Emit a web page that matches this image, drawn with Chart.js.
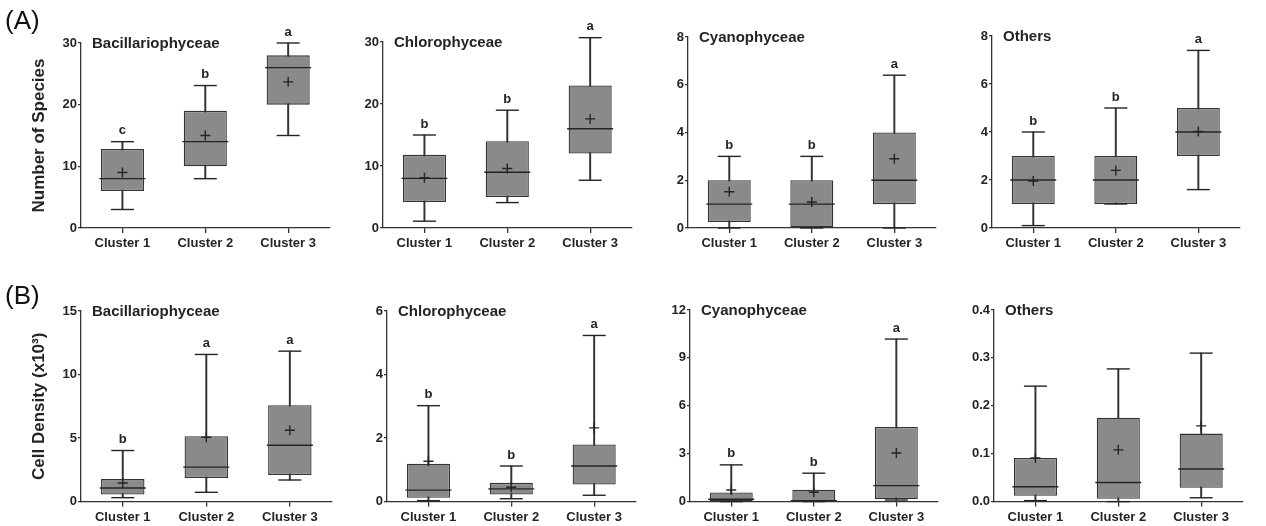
<!DOCTYPE html>
<html>
<head>
<meta charset="utf-8">
<script src="https://cdn.jsdelivr.net/npm/chart.js@4.4.0/dist/chart.umd.min.js"></script>
<style>
    html, body { margin: 0; padding: 0; background: #fff; }
    #wrap { position: relative; width: 1266px; height: 526px; overflow: hidden; }
    .panel { position: absolute; }
</style>
</head>
<body>
<div id="wrap"></div>
<script>
// --- data ---
const clusters = ["Cluster 1", "Cluster 2", "Cluster 3"];
const groups = ["Bacillariophyceae", "Chlorophyceae", "Cyanophyceae", "Others"];

// (A) number of species, one row per group, one value per cluster
const speciesMin = [[3, 8, 15], [1.1, 4.1, 7.7], [0, 0, 0], [0.1, 1, 1.6]];
const speciesQ1 = [[6, 10, 20], [4.2, 5, 12], [0.25, 0, 1], [1, 1, 3]];
const speciesMedian = [[8, 14, 26], [8, 9, 16], [1, 1, 2], [2, 2, 4]];
const speciesQ3 = [[12.8, 19, 28], [11.8, 14, 23], [2, 2, 4], [3, 3, 5]];
const speciesMax = [[14, 23.1, 30], [15, 19, 30.7], [3, 3, 6.4], [4, 5, 7.4]];
const speciesMean = [[9, 15, 23.7], [8.1, 9.6, 17.6], [1.52, 1.09, 2.9], [1.96, 2.4, 4.02]];
const speciesLetters = [["c", "b", "a"], ["b", "b", "a"], ["b", "b", "a"], ["b", "b", "a"]];
const speciesYMax = [30, 30, 8, 8];
const speciesYStep = [10, 10, 2, 2];

// (B) cell density (x10^3)
const densityMin = [[0.31, 0.73, 1.7], [0.03, 0.09, 0.2], [0, 0, 0.1], [0.002, 0, 0.008]];
const densityQ1 = [[0.55, 1.85, 2.09], [0.12, 0.22, 0.54], [0.02, 0.02, 0.17], [0.012, 0.006, 0.029]];
const densityMedian = [[1.07, 2.71, 4.43], [0.36, 0.4, 1.12], [0.15, 0.06, 1.0], [0.031, 0.04, 0.068]];
const densityQ3 = [[1.77, 5.14, 7.59], [1.19, 0.59, 1.8], [0.57, 0.75, 4.67], [0.091, 0.175, 0.142]];
const densityMax = [[4.02, 11.58, 11.84], [3.02, 1.12, 5.23], [2.3, 1.78, 10.18], [0.241, 0.277, 0.31]];
const densityMean = [[1.46, 5.06, 5.61], [1.27, 0.45, 2.32], [0.73, 0.59, 3.04], [0.091, 0.108, 0.158]];
const densityLetters = [["b", "a", "a"], ["b", "b", "a"], ["b", "b", "a"], ["", "", ""]];
const densityYMax = [15, 6, 12, 0.4];
const densityYStep = [5, 2, 3, 0.1];

// --- look ---
const FONT = "'Liberation Sans', Arial, sans-serif";
const INK = "#242424";
const EDGE = "#333333";
const BOX = "#8a8a8a";

// plot area of each panel, in page pixels
const rowA = { top: 0, height: 262, axisBottom: 228, tops: [43, 42, 37, 36], lefts: [81, 383, 688, 992], rights: [350, 652, 956, 1260] };
const rowB = { top: 262, height: 264, axisBottom: 502, tops: [311, 311, 310, 310], lefts: [81, 387, 690, 994], rights: [352, 656, 958, 1263] };

const wrap = document.getElementById("wrap");

function makePanel(row, i, s) {
    const canvasLeft = i === 0 ? 0 : row.lefts[i] - 44;
    const yWidth = row.lefts[i] - canvasLeft;
    const width = row.rights[i] + 4 - canvasLeft;
    const xHeight = row.top + row.height - row.axisBottom;

    const box = document.createElement("div");
    box.className = "panel";
    box.style.left = canvasLeft + "px";
    box.style.top = row.top + "px";
    box.style.width = width + "px";
    box.style.height = row.height + "px";
    const canvas = document.createElement("canvas");
    box.appendChild(canvas);
    wrap.appendChild(box);

    const annotations = {
        id: "annotations",
        afterDraw(chart) {
            const ctx = chart.ctx;
            const area = chart.chartArea;
            const y = chart.scales.y;
            const x = chart.scales.x;
            ctx.save();
            ctx.fillStyle = INK;
            ctx.textBaseline = "middle";
            ctx.textAlign = "left";
            ctx.font = "bold 15px " + FONT;
            ctx.fillText(s.title, area.left + 11, area.top + 1);

            ctx.textAlign = "center";
            ctx.font = "bold 13px " + FONT;
            s.letters.forEach((t, k) => {
                if (!t) return;
                ctx.fillText(t, x.getPixelForValue(k), y.getPixelForValue(s.max[k]) - 11);
            });

            if (s.tag) {
                ctx.textAlign = "left";
                ctx.font = "26px " + FONT;
                ctx.fillStyle = "#111";
                ctx.fillText(s.tag, 5, s.tagY);
            }
            ctx.restore();
        },
    };

    const pointSet = (data, style, radius, order) => ({
        type: "line",
        data: data,
        showLine: false,
        pointStyle: style,
        pointRadius: radius,
        pointHoverRadius: radius,
        pointBorderColor: INK,
        pointBackgroundColor: INK,
        pointBorderWidth: 1.4,
        clip: false,
        order: order,
    });

    new Chart(canvas, {
        type: "bar",
        data: {
            labels: clusters,
            datasets: [
                pointSet(s.mean, "cross", 5, 1),
                pointSet(s.median, "line", 23, 2),
                pointSet(s.max, "line", 11.5, 3),
                pointSet(s.min, "line", 11.5, 3),
                {
                    type: "bar",
                    data: s.q1.map((v, k) => [v, s.q3[k]]),
                    backgroundColor: BOX,
                    borderColor: EDGE,
                    borderWidth: 1.3,
                    borderSkipped: false,
                    grouped: false,
                    barPercentage: 0.52,
                    categoryPercentage: 1,
                    clip: false,
                    order: 4,
                },
                {
                    type: "bar",
                    data: s.min.map((v, k) => [v, s.max[k]]),
                    backgroundColor: EDGE,
                    borderWidth: 0,
                    barThickness: 1.3,
                    grouped: false,
                    clip: false,
                    order: 5,
                },
            ],
        },
        options: {
            responsive: true,
            maintainAspectRatio: false,
            animation: false,
            events: [],
            layout: { padding: { top: row.tops[i] - row.top, right: 4, bottom: 0, left: 0 } },
            plugins: { legend: { display: false }, tooltip: { enabled: false } },
            scales: {
                x: {
                    grid: { offset: false, drawOnChartArea: false, tickLength: 5, color: EDGE, lineWidth: 1.3 },
                    border: { display: true, color: EDGE, width: 1.3 },
                    ticks: { color: INK, font: { family: FONT, size: 13, weight: "bold" }, padding: 3, maxRotation: 0 },
                    afterFit(scale) { scale.height = xHeight; },
                },
                y: {
                    min: 0,
                    max: s.yMax,
                    grid: { drawOnChartArea: false, tickLength: 3, color: EDGE, lineWidth: 1.3 },
                    border: { display: true, color: EDGE, width: 1.3 },
                    ticks: {
                        stepSize: s.yStep,
                        color: INK,
                        padding: 1,
                        font: { family: FONT, size: 13, weight: "bold" },
                        callback: (v) => (s.yStep < 1 ? v.toFixed(1) : v),
                    },
                    title: {
                        display: !!s.yTitle,
                        text: s.yTitle || "",
                        color: INK,
                        font: { family: FONT, size: 17, weight: "bold" },
                        padding: { top: 29, bottom: 0 },
                    },
                    afterFit(scale) { scale.width = yWidth; },
                },
            },
        },
        plugins: [annotations],
    });
}

groups.forEach((g, i) => {
    makePanel(rowA, i, {
        title: g,
        min: speciesMin[i], q1: speciesQ1[i], median: speciesMedian[i],
        q3: speciesQ3[i], max: speciesMax[i], mean: speciesMean[i],
        letters: speciesLetters[i], yMax: speciesYMax[i], yStep: speciesYStep[i],
        yTitle: i === 0 ? "Number of Species" : null,
        tag: i === 0 ? "(A)" : null, tagY: 22,
    });
    makePanel(rowB, i, {
        title: g,
        min: densityMin[i], q1: densityQ1[i], median: densityMedian[i],
        q3: densityQ3[i], max: densityMax[i], mean: densityMean[i],
        letters: densityLetters[i], yMax: densityYMax[i], yStep: densityYStep[i],
        yTitle: i === 0 ? "Cell Density (x10\u00B3)" : null,
        tag: i === 0 ? "(B)" : null, tagY: 35,
    });
});
</script>
</body>
</html>
